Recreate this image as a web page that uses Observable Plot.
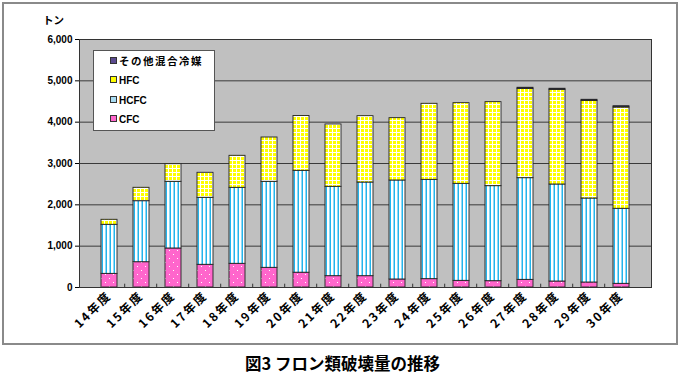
<!DOCTYPE html>
<html><head><meta charset="utf-8">
<script src="https://cdn.jsdelivr.net/npm/d3@7"></script>
<script src="https://cdn.jsdelivr.net/npm/@observablehq/plot@0.6"></script>
<style>
body{margin:0;background:#fff;}
#wrap{position:relative;width:685px;height:380px;background:#fff;font-family:"Liberation Sans","Noto Sans CJK JP",sans-serif;}
#frame{position:absolute;left:2px;top:2px;width:672px;height:339px;border:2px solid #8a8a8a;}
#chart{position:absolute;left:0;top:0;}
#unit{position:absolute;left:43px;top:12px;font:bold 10.5px "Noto Sans CJK JP",sans-serif;}
#legend{position:absolute;left:93px;top:50px;width:120px;height:79px;background:#fff;border:1px solid #555;font:bold 10px "Liberation Sans","Noto Sans CJK JP",sans-serif;}
.li{position:absolute;left:16px;height:14px;line-height:14px;white-space:nowrap;}
.sw{display:inline-block;width:5px;height:5px;border:1px solid #333;margin-right:2px;vertical-align:1px;}
#title{position:absolute;left:0;width:685px;top:351px;text-align:center;font:bold 16.5px "Noto Sans CJK JP",sans-serif;}
</style></head>
<body>
<div id="wrap">
  <div id="frame"></div>
  <div id="chart"></div>
  <div id="unit">トン</div>
  <div id="legend"></div>
  <div id="title">図3 フロン類破壊量の推移</div>
</div>
<script>
const years = ["14年度","15年度","16年度","17年度","18年度","19年度","20年度","21年度","22年度","23年度","24年度","25年度","26年度","27年度","28年度","29年度","30年度"];
const cfc   = [330, 612, 944, 549, 573, 476, 358, 274, 274, 194, 202, 161, 153, 185, 145, 121, 89];
const hcfc  = [1187, 1476, 1613, 1621, 1839, 2081, 2465, 2162, 2266, 2395, 2403, 2347, 2299, 2460, 2347, 2032, 1815];
const hfc   = [121, 324, 426, 605, 774, 1072, 1327, 1508, 1605, 1508, 1839, 1952, 2032, 2162, 2291, 2363, 2451];
const other = [0, 0, 0, 0, 0, 0, 0, 0, 0, 0, 0, 0, 0, 25, 25, 25, 30];
const seriesNames = ["CFC", "HCFC", "HFC", "その他混合冷媒"];
const yTicks = [0, 1000, 2000, 3000, 4000, 5000, 6000];

const seriesValues = [cfc, hcfc, hfc, other];
const data = years.flatMap((yr, i) => seriesNames.map((s, k) => ({year: yr, type: s, value: seriesValues[k][i]})));

const chart = Plot.plot({
  width: 685, height: 340,
  marginLeft: 79, marginRight: 34, marginTop: 39, marginBottom: 53,
  style: {background: "transparent", fontFamily: "'Liberation Sans','Noto Sans CJK JP',sans-serif", color: "#000"},
  x: {domain: years, padding: 0.5, label: null},
  y: {domain: [0, 6000], label: null},
  color: {domain: seriesNames, range: ["url(#pCFC)", "url(#pHCFC)", "url(#pHFC)", "#333366"]},
  marks: [
    Plot.frame({fill: "#C0C0C0"}),
    Plot.gridY(yTicks.filter(t => t > 0 && t < 6000), {stroke: "#3a3a3a", strokeOpacity: 1, strokeWidth: 1}),
    Plot.ruleX(years.slice(1), {x: d => d, dx: -16.8, y1: 0, y2: 80, stroke: "#333"}),
    Plot.barY(data, {x: "year", y: "value", fill: "type", stroke: "#222", strokeWidth: 0.9}),
    Plot.frame({stroke: "#333", strokeWidth: 1}),
    Plot.axisY({ticks: yTicks, tickFormat: d3.format(","), tickSize: 4, tickPadding: 3, fontWeight: "bold", fontSize: 10}),
    Plot.axisX({tickSize: 0, tickRotate: -45, tickPadding: 6, fontWeight: "bold", fontSize: 12, fontFamily: "'Noto Sans CJK JP',sans-serif"})
  ]
});

const svg = d3.select(chart);
svg.selectAll("g[aria-label='x-axis tick label'] text").attr("letter-spacing", "2px");
const defs = svg.insert("defs", ":first-child");
// CFC: pink with white dots
const p1 = defs.append("pattern").attr("id", "pCFC").attr("patternUnits", "userSpaceOnUse").attr("width", 8).attr("height", 8);
p1.append("rect").attr("width", 8).attr("height", 8).attr("fill", "#FF66CC");
p1.append("rect").attr("x", 1).attr("y", 2).attr("width", 1).attr("height", 1).attr("fill", "#fff");
p1.append("rect").attr("x", 5).attr("y", 6).attr("width", 1).attr("height", 1).attr("fill", "#fff");
// HCFC: white with vertical blue stripes
const p2 = defs.append("pattern").attr("id", "pHCFC").attr("patternUnits", "userSpaceOnUse").attr("width", 4).attr("height", 4);
p2.append("rect").attr("width", 4).attr("height", 4).attr("fill", "#fff");
p2.append("rect").attr("x", 1.5).attr("width", 1.5).attr("height", 4).attr("fill", "#22B4EC");
// HFC: yellow with white grid
const p3 = defs.append("pattern").attr("id", "pHFC").attr("patternUnits", "userSpaceOnUse").attr("width", 4).attr("height", 4);
p3.append("rect").attr("width", 4).attr("height", 4).attr("fill", "#fff");
p3.append("rect").attr("x", 1).attr("y", 1).attr("width", 3).attr("height", 3).attr("fill", "#FFFF00");

document.getElementById("chart").appendChild(chart);

// legend
const legendItems = [
  {name: "その他混合冷媒", color: "#5B4A8F", top: 3},
  {name: "HFC", color: "#FFFF00", top: 23},
  {name: "HCFC", color: "#A8DCF2", top: 43},
  {name: "CFC", color: "#FF66CC", top: 62}
];
const lg = document.getElementById("legend");
legendItems.forEach(it => {
  const d = document.createElement("div");
  d.className = "li";
  d.style.top = it.top + "px";
  const sw = document.createElement("span");
  sw.className = "sw";
  sw.style.background = it.color;
  d.appendChild(sw);
  const t = document.createElement("span");
  t.textContent = it.name;
  if (it.name === "その他混合冷媒") { t.style.letterSpacing = "1.5px"; t.style.fontSize = "10.5px"; t.style.fontFamily = "'Noto Sans CJK JP',sans-serif"; }
  d.appendChild(t);
  lg.appendChild(d);
});
</script>
</body></html>
